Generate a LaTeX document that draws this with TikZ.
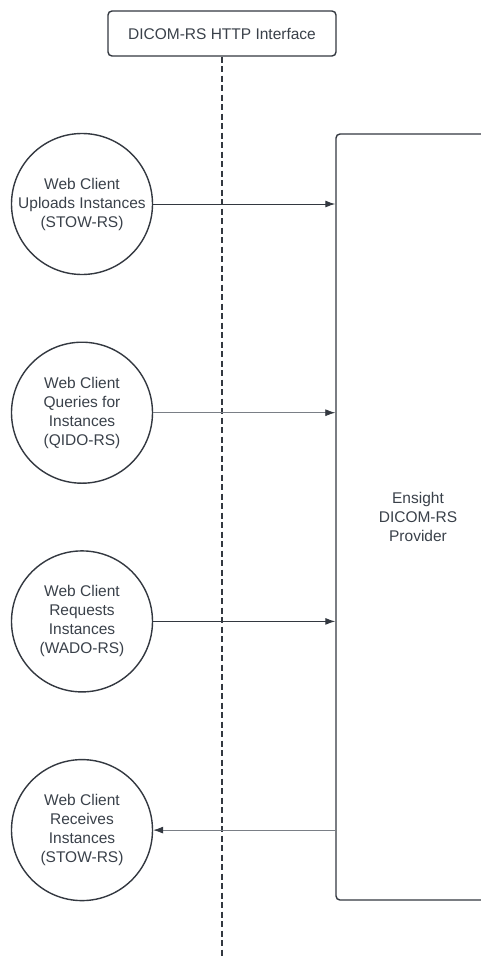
\documentclass[tikz,border=0pt]{standalone}
\usepackage{fontspec}
\setmainfont{Liberation Sans}
\usepackage{xcolor}
\usepackage{tikz}
\usetikzlibrary{calc,positioning,arrows.meta}

\definecolor{inkgray}{HTML}{3A414A}
\definecolor{linegray}{HTML}{333840}
\definecolor{thingray}{HTML}{7A7F86}

\begin{document}
\begin{tikzpicture}
          [x=1pt,y=-1pt,
           client/.style={circle,draw=linegray,line width=1.4pt,fill=white,
             minimum size=141pt,inner sep=0pt,align=center,text=inkgray},
           box/.style={rectangle,rounded corners=4pt,draw=linegray,line width=1.4pt,
             fill=white,align=center,text=inkgray},
           node distance=208.7pt,
           on grid,
           every node/.style={font=\fontsize{15.5}{19}\selectfont},
           >={Latex[length=10pt,width=7pt,color=linegray]}
          ]
          \useasboundingbox (0,0) rectangle (481,959);
          \node[box,minimum width=228pt,minimum height=45pt] (http) at (222,33.5) {DICOM-RS HTTP Interface};
          \coordinate (bottom) at (222,959);
          \draw[linegray,line width=2.5pt,dash pattern=on 6pt off 3.5pt] (http.south) -- (bottom);
          \node[box,minimum width=164pt,minimum height=766pt] (provider) at (418,517) {Ensight\\DICOM-RS\\Provider};
          \node[client] (stow) at (82,204) {Web Client\\Uploads Instances\\(STOW-RS)};
          \node[client,below=of stow] (qido) {Web Client\\Queries for\\Instances\\(QIDO-RS)};
          \node[client,below=of qido] (wado) {Web Client\\Requests\\Instances\\(WADO-RS)};
          \node[client,below=of wado] (recv) {Web Client\\Receives\\Instances\\(STOW-RS)};
          \draw[linegray,line width=1pt]
            (stow) edge[->] (stow -| provider.west)
            (wado) edge[->] (wado -| provider.west);
          \draw[thingray,line width=0.8pt]
            (qido) edge[->] (qido -| provider.west)
            (recv -| provider.west) edge[->] (recv);
        \end{tikzpicture}
\end{document}
